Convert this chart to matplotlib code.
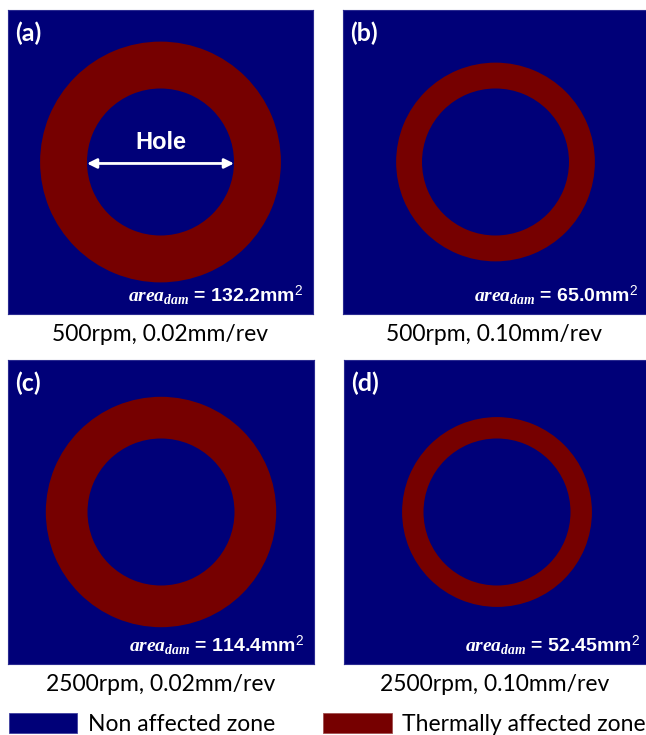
import numpy as np
import matplotlib.pyplot as plt
from matplotlib.patches import Wedge, Patch

# damage maps around drilled holes, four cutting conditions
panel_tags = ['(a)', '(b)', '(c)', '(d)']
spindle_speed = [500, 500, 2500, 2500]      # rpm
feed_rate = [0.02, 0.10, 0.02, 0.10]        # mm/rev
area_dam = [132.2, 65.0, 114.4, 52.45]      # mm^2
hole_diameter = 10.0                        # mm

zone_names = ['Non affected zone', 'Thermally affected zone']
blue = '#000078'
red = '#760000'

plt.rcParams['mathtext.fontset'] = 'custom'
plt.rcParams['mathtext.it'] = 'Liberation Serif:italic:bold'
plt.rcParams['mathtext.rm'] = 'Liberation Sans'

W, H = 646, 735
fig = plt.figure(figsize=(W / 100, H / 100), dpi=100)

px_per_mm = 14.7
# panel boxes in pixels: left, top, right, bottom
boxes = [(8, 10, 313, 314), (343, 10, 648, 314),
         (8, 360, 314, 664), (344, 360, 650, 664)]

r_hole = hole_diameter / 2
for i, (l, t, r, b) in enumerate(boxes):
    wpx, hpx = r - l, b - t
    ax = fig.add_axes([l / W, 1 - b / H, wpx / W, hpx / H])
    ax.set_facecolor(blue)
    ax.set_xlim(-wpx / 2 / px_per_mm, wpx / 2 / px_per_mm)
    ax.set_ylim(-hpx / 2 / px_per_mm, hpx / 2 / px_per_mm)
    ax.set_xticks([])
    ax.set_yticks([])
    for s in ax.spines.values():
        s.set_color('#2a2a90')
        s.set_linewidth(0.8)

    # ring area = pi*(R^2 - r^2)
    r_out = np.sqrt(area_dam[i] / np.pi + r_hole ** 2)
    ax.add_patch(Wedge((0, 0), r_out, 0, 360, width=r_out - r_hole,
                       facecolor=red, edgecolor='none'))

    ax.text(0.024, 0.962, panel_tags[i], transform=ax.transAxes,
            ha='left', va='top', color='white', fontsize=18,
            fontweight='bold', family='Lato')

    ax.text(0.968, 0.04, r'$area_{dam}$' + f' = {area_dam[i]}mm$^{{2}}$',
            transform=ax.transAxes, ha='right', va='baseline',
            color='white', fontsize=14, fontweight='bold',
            family='Liberation Sans')

    if i == 0:
        ax.annotate('', xy=(-r_hole, -0.1), xytext=(r_hole, -0.1),
                    arrowprops=dict(arrowstyle='<|-|>', color='white',
                                    lw=2, mutation_scale=14,
                                    shrinkA=0, shrinkB=0))
        ax.text(0, 0.55, 'Hole', ha='center', va='bottom', color='white',
                fontsize=17, fontweight='bold', family='Liberation Sans')

    cx = (l + min(r, W)) / 2
    fig.text(cx / W, 1 - (b + 27) / H,
             f'{spindle_speed[i]}rpm, {feed_rate[i]:.2f}mm/rev',
             ha='center', va='baseline', fontsize=16.5, family='Lato')

handles = [Patch(facecolor=blue, edgecolor='#4040a0', lw=0.6, label=zone_names[0]),
           Patch(facecolor=red, edgecolor='#a05050', lw=0.6, label=zone_names[1])]
fig.legend(handles=handles, loc='lower left', bbox_to_anchor=(9 / W, 0.0),
           ncol=2, frameon=False, borderpad=0, borderaxespad=0,
           handlelength=2.97, handleheight=0.96, handletextpad=0.48,
           columnspacing=2.1, prop={'family': 'Lato', 'size': 16.5})

fig.savefig('out.png', dpi=100)
